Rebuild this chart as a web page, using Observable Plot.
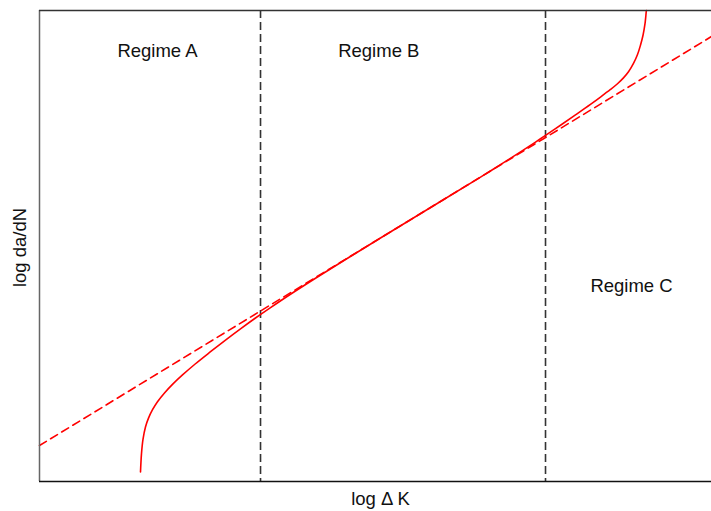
<!DOCTYPE html>
<html>
<head>
<meta charset="utf-8">
<script src="https://cdn.jsdelivr.net/npm/d3@7"></script>
<script src="https://cdn.jsdelivr.net/npm/@observablehq/plot@0.6"></script>
<style>
  html, body { margin: 0; padding: 0; background: #fff; }
  #chart { width: 711px; height: 511px; }
</style>
</head>
<body>
<div id="chart"></div>
<script>
// Solid crack-growth curve (log ΔK, log da/dN) (arbitrary units 0–10)
const curveX = [1.503, 1.518, 1.540, 1.577, 1.622, 1.682, 1.756, 1.860, 1.979, 2.128, 2.321, 2.545, 2.768, 2.991, 3.214, 3.438, 3.735, 4.107, 4.554, 5.074, 5.967, 6.563, 6.860, 7.158, 7.381, 7.530, 7.753, 7.976, 8.199, 8.348, 8.497, 8.601, 8.690, 8.765, 8.839, 8.899, 8.943, 8.981, 9.010, 9.030, 9.032];
const curveY = [0.202, 0.596, 0.892, 1.157, 1.345, 1.524, 1.694, 1.880, 2.062, 2.262, 2.500, 2.755, 3.002, 3.241, 3.471, 3.692, 3.976, 4.316, 4.714, 5.170, 5.946, 6.463, 6.727, 6.999, 7.207, 7.349, 7.564, 7.784, 8.007, 8.162, 8.323, 8.445, 8.569, 8.698, 8.875, 9.065, 9.263, 9.475, 9.714, 9.985, 10.0];

// Dashed Paris-law line
const parisX = [0, 10];
const parisY = [0.764, 9.448];

// Regime boundaries
const boundaries = [3.289, 7.530];

// Regime labels
const regimeNames = ["Regime A", "Regime B", "Regime C"];
const regimeX = [1.756, 5.049, 8.810];
const regimeY = [9.142, 9.142, 4.146];

const xLabel = "log \u0394 K";
const yLabel = "log da/dN";

const curve = curveX.map((x, i) => ({x, y: curveY[i]}));
const paris = parisX.map((x, i) => ({x, y: parisY[i]}));
const regimes = regimeNames.map((name, i) => ({name, x: regimeX[i], y: regimeY[i]}));

const FS = 18.5;

const chart = Plot.plot({
  width: 711,
  height: 511,
  marginLeft: 39,
  marginRight: 0,
  marginTop: 10,
  marginBottom: 30,
  x: {domain: [0, 10], axis: null},
  y: {domain: [0, 10], axis: null},
  style: {fontFamily: "'Liberation Sans', Arial, Helvetica, sans-serif", fontSize: FS + "px", background: "white", color: "#111"},
  marks: [
    Plot.ruleX(boundaries, {stroke: "#333", strokeWidth: 1.6, strokeDasharray: "8,4"}),
    Plot.line(paris, {x: "x", y: "y", stroke: "red", strokeWidth: 1.6, strokeDasharray: "8,5"}),
    Plot.line(curve, {x: "x", y: "y", stroke: "red", strokeWidth: 1.6, curve: "catmull-rom"}),
    Plot.ruleX([0], {stroke: "#666", strokeWidth: 1.5}),
    Plot.ruleY([10], {stroke: "#333", strokeWidth: 1.5}),
    Plot.ruleY([0], {stroke: "#111", strokeWidth: 1.5}),
    Plot.text(regimes, {x: "x", y: "y", text: "name", fill: "#111", fontSize: FS}),
    Plot.text([xLabel], {frameAnchor: "bottom", textAnchor: "middle", lineAnchor: "middle", dx: 5, dy: 18, fill: "#111", fontSize: FS}),
    Plot.text([yLabel], {frameAnchor: "left", textAnchor: "middle", lineAnchor: "middle", dx: -19, dy: 1.5, rotate: -90, fill: "#111", fontSize: FS})
  ]
});
document.getElementById("chart").appendChild(chart);
</script>
</body>
</html>
